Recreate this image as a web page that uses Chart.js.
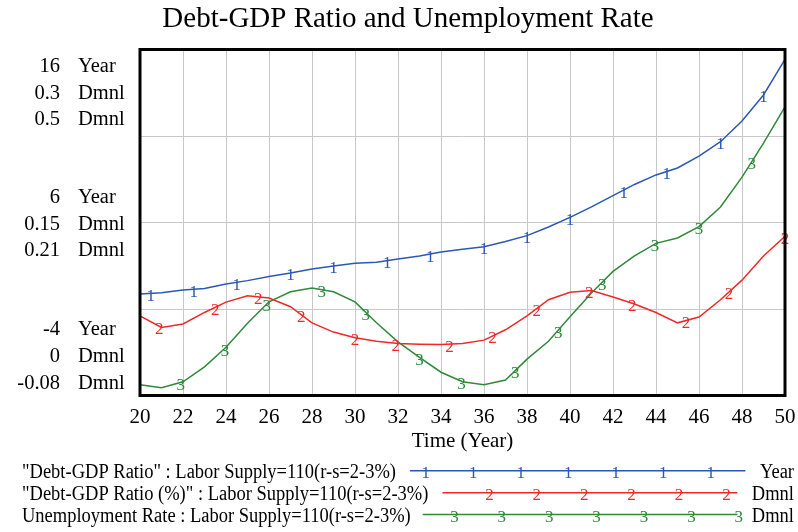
<!DOCTYPE html>
<html lang="en">
<head>
<meta charset="UTF-8">
<title>Debt-GDP Ratio and Unemployment Rate</title>
<style>
  html, body { margin: 0; padding: 0; background: #fff; }
  #wrap { width: 798px; height: 532px; }
</style>
</head>
<body>
<div id="wrap"><canvas id="chart"></canvas></div>
<script src="https://cdn.jsdelivr.net/npm/chart.js"></script>
<script>
// time axis (Year)
const years = [20,21,22,23,24,25,26,27,28,29,30,31,32,33,34,35,36,37,38,39,40,41,42,43,44,45,46,47,48,49,50];

// series
const debtRatio = [1.87,1.94,2.10,2.18,2.45,2.64,2.88,3.08,3.31,3.49,3.64,3.70,3.89,4.06,4.29,4.45,
                   4.60,4.90,5.24,5.74,6.30,6.90,7.55,8.20,8.75,9.15,9.84,10.67,11.87,13.37,15.43];
const debtRatioPct = [0.069,0.059,0.062,0.072,0.081,0.0865,0.0845,0.077,0.063,0.055,0.050,0.047,0.045,0.0444,0.0442,0.045,
                      0.048,0.057,0.069,0.083,0.0895,0.091,0.0854,0.0793,0.072,0.063,0.068,0.083,0.100,0.121,0.138];
const unemployment = [-0.062,-0.067,-0.057,-0.032,0.001,0.041,0.077,0.094,0.100,0.094,0.077,0.042,0.010,-0.016,-0.041,-0.057,
                      -0.062,-0.054,-0.019,0.011,0.052,0.092,0.128,0.154,0.175,0.184,0.203,0.236,0.286,0.343,0.404];

// where the number markers sit along each line (Year)
const marks1 = [20.5,22.5,24.5,27,29,31.5,33.5,36,38,40,42.5,44.5,47,49];
const marks2 = [20.9,23.5,25.5,27.5,30,31.9,34.4,36.4,38.45,40.9,42.9,45.4,47.4,50];
const marks3 = [21.9,23.95,25.9,28.45,30.5,33,34.95,37.45,39.45,41.5,43.95,46,48.45];

// left axis tick labels (bottom, middle, top)
const ticks1 = ['-4', '6', '16'];
const ticks2 = ['0', '0.15', '0.3'];
const ticks3 = ['-0.08', '0.21', '0.5'];
const units = ['Year', 'Dmnl', 'Dmnl'];

const legendLabels = [
  '"Debt-GDP Ratio" : Labor Supply=110(r-s=2-3%)',
  '"Debt-GDP Ratio (%)" : Labor Supply=110(r-s=2-3%)',
  'Unemployment Rate : Labor Supply=110(r-s=2-3%)'
];

const colors = ['#2a58b4', '#f02828', '#2e8a3a'];
const serif = '"Liberation Serif", "Times New Roman", serif';
const seriesData = [debtRatio, debtRatioPct, unemployment];

const vensimPlugin = {
  id: 'vensim',
  afterDatasetsDraw(chart) {
    const ctx = chart.ctx;
    const xs = chart.scales.x;
    const area = chart.chartArea;
    const allMarks = [marks1, marks2, marks3];
    ctx.save();
    ctx.font = '17px ' + serif;
    ctx.textAlign = 'center';
    ctx.textBaseline = 'middle';
    chart.data.datasets.forEach((ds, k) => {
      const ys = chart.scales[ds.yAxisID];
      const vals = seriesData[k];
      ctx.fillStyle = colors[k];
      allMarks[k].forEach(t => {
        const i = Math.min(Math.floor(t - years[0]), years.length - 2);
        const f = t - years[i];
        const v = vals[i] + (vals[i + 1] - vals[i]) * f;
        ctx.fillText(String(k + 1), xs.getPixelForValue(t), ys.getPixelForValue(v) + 3);
      });
    });

    // frame
    ctx.strokeStyle = '#000';
    ctx.lineWidth = 3;
    ctx.strokeRect(area.left, area.top, area.right - area.left, area.bottom - area.top);
    ctx.restore();
  },
  afterDraw(chart) {
    const ctx = chart.ctx;
    const area = chart.chartArea;
    ctx.save();

    // title
    ctx.fillStyle = '#000';
    ctx.font = '29px ' + serif;
    ctx.textAlign = 'center';
    ctx.textBaseline = 'middle';
    ctx.fillText('Debt-GDP Ratio and Unemployment Rate', 408, 19);

    // stacked left axis labels
    ctx.font = '20.5px ' + serif;
    const y1 = chart.scales.y1;
    const y1vals = [y1.min, (y1.min + y1.max) / 2, y1.max];
    const step = 26.7;
    for (let j = 0; j < 3; j++) {
      let c = y1.getPixelForValue(y1vals[j]);
      c = Math.max(area.top + 42, Math.min(area.bottom - 40.5, c)) + 1.8;
      const rows = [ticks1[j], ticks2[j], ticks3[j]];
      rows.forEach((r, k) => {
        const yy = c + (k - 1) * step;
        ctx.textAlign = 'right';
        ctx.fillText(r, 60, yy);
        ctx.textAlign = 'left';
        ctx.fillText(units[k], 78, yy);
      });
    }

    // legend
    const rowsY = [470.7, 492.7, 514.5];
    const gaps = [14, 14, 12];
    const firstOff = [15.7, 47, 31.7];
    const spacing = [47.5, 47.4, 47.4];
    const counts = [7, 6, 7];
    const squeeze = 0.925;
    legendLabels.forEach((lab, k) => {
      const yy = rowsY[k];
      ctx.font = '20px ' + serif;
      ctx.fillStyle = '#000';
      ctx.textBaseline = 'middle';
      ctx.textAlign = 'left';
      const tw = ctx.measureText(lab).width * squeeze;
      ctx.save();
      ctx.translate(22, yy + 2);
      ctx.scale(squeeze, 1);
      ctx.fillText(lab, 0, 0);
      ctx.restore();
      const uw = ctx.measureText(units[k]).width * squeeze;
      ctx.save();
      ctx.translate(794 - uw, yy + 2);
      ctx.scale(squeeze, 1);
      ctx.fillText(units[k], 0, 0);
      ctx.restore();
      const x0 = 22 + tw + gaps[k];
      const x1 = 794 - uw - 14.5;
      ctx.strokeStyle = colors[k];
      ctx.lineWidth = 1.5;
      ctx.beginPath();
      ctx.moveTo(x0, yy);
      ctx.lineTo(x1, yy);
      ctx.stroke();
      ctx.fillStyle = colors[k];
      ctx.font = '17px ' + serif;
      ctx.textAlign = 'center';
      for (let m = 0; m < counts[k]; m++) {
        ctx.fillText(String(k + 1), x0 + firstOff[k] + m * spacing[k], yy + 3.3);
      }
    });
    ctx.restore();
  }
};

new Chart(document.getElementById('chart').getContext('2d'), {
  type: 'line',
  data: {
    datasets: [
      { yAxisID: 'y1', borderColor: colors[0] },
      { yAxisID: 'y2', borderColor: colors[1] },
      { yAxisID: 'y3', borderColor: colors[2] }
    ].map((d, k) => Object.assign(d, {
      borderWidth: 1.5, pointRadius: 0, tension: 0, fill: false,
      data: seriesData[k].map((v, i) => ({ x: years[i], y: v }))
    }))
  },
  options: {
    responsive: true,
    maintainAspectRatio: false,
    animation: false,
    layout: { padding: { left: 140, right: 13, top: 49.5, bottom: 78.4 } },
    plugins: { legend: { display: false }, title: { display: false }, tooltip: { enabled: false } },
    scales: {
      x: {
        type: 'linear', min: 20, max: 50,
        ticks: { stepSize: 2, padding: 9, color: '#000', font: { family: serif, size: 21 } },
        grid: { color: '#c8c8c8', drawTicks: false },
        border: { display: false },
        title: { display: true, text: 'Time (Year)', color: '#000', padding: { top: 0, bottom: 0 }, font: { family: serif, size: 21 } },
        afterFit(scale) {
          // fixed axis band, and let the last tick label hang past the frame
          scale.height = 58.1;
          scale.paddingLeft = 0;
          scale.paddingRight = 0;
        }
      },
      y1: {
        type: 'linear', position: 'left', min: -4, max: 16,
        ticks: { display: false, stepSize: 5 },
        grid: { color: '#c8c8c8', drawTicks: false },
        border: { display: false }
      },
      y2: { type: 'linear', display: false, min: 0, max: 0.3 },
      y3: { type: 'linear', display: false, min: -0.08, max: 0.5 }
    }
  },
  plugins: [vensimPlugin]
});
</script>
</body>
</html>
